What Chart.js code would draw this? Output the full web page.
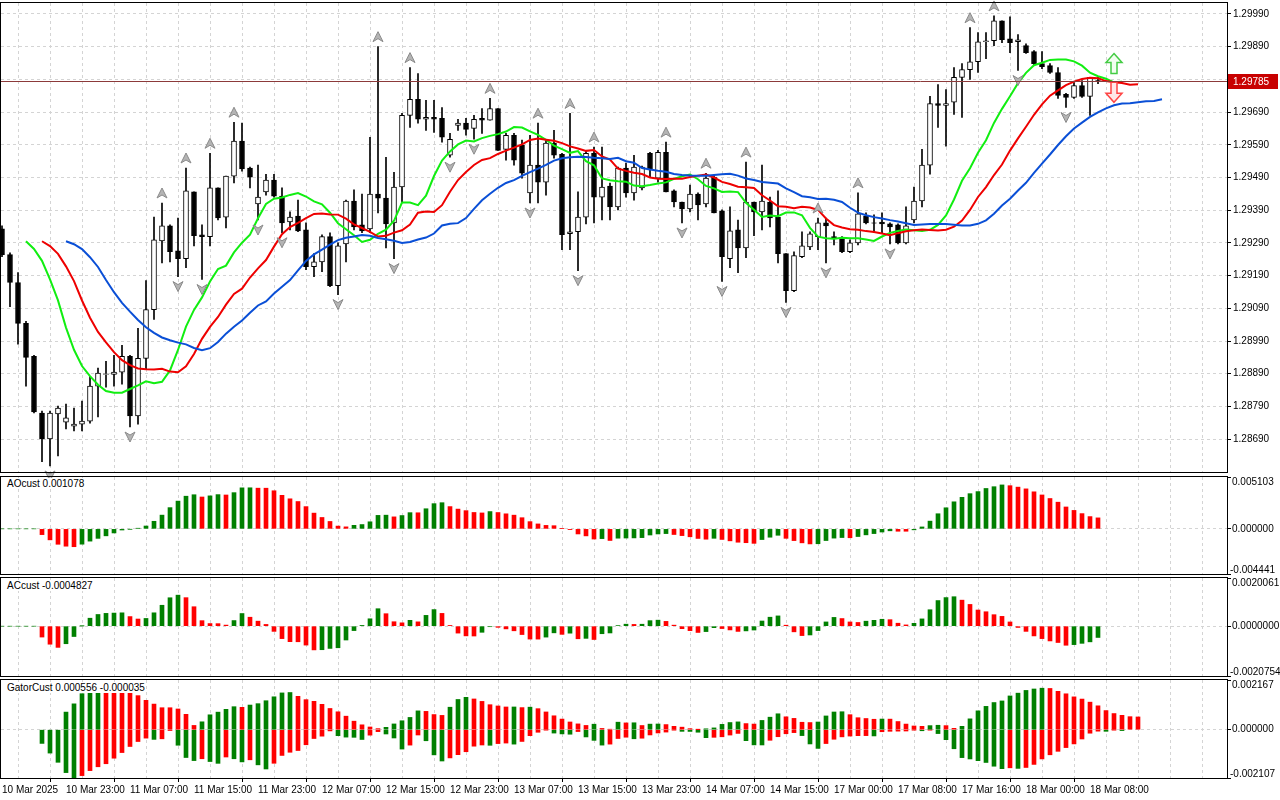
<!DOCTYPE html>
<html lang="en">
<head>
  <meta charset="UTF-8">
  <title>GBPUSD H1 Alligator</title>
  <script src="https://cdn.jsdelivr.net/npm/chart.js"></script>
  <style>
    body { margin: 0; background: #fff; width: 1280px; height: 800px; overflow: hidden; position: relative; font-family: 'Liberation Sans', Arial, sans-serif; }
    canvas { position: absolute; left: 0; }
    .title { position: absolute; left: 6px; font-size: 10px; color: #000; z-index: 5; background: #fff; padding: 0 1px; }
  </style>
</head>
<body>
  <canvas id="mainChart" width="1280" height="485" style="top:-5px"></canvas>
  <canvas id="aoChart" width="1280" height="114" style="top:468px"></canvas>
  <canvas id="acChart" width="1280" height="114" style="top:570px"></canvas>
  <canvas id="gatorChart" width="1280" height="129" style="top:671px"></canvas>
  <div class="title" style="top:478px">AOcust 0.001078</div>
  <div class="title" style="top:580px">ACcust -0.0004827</div>
  <div class="title" style="top:682px">GatorCust 0.000556 -0.000035</div>

  <script>
    // H1 candles, 10 Mar 15:00 .. 18 Mar 10:00
    const openP = [
      1.29333,1.29254,1.29169,1.29044,1.28943,1.28770,1.28691,1.28767,1.28742,1.28730,
      1.28736,1.28745,1.28852,1.28888,1.28888,1.28895,1.28943,1.28761,1.28937,1.29086,
      1.29296,1.29342,1.29266,1.29242,1.29446,1.29315,1.29309,1.29458,1.29369,1.29494,
      1.29601,1.29519,1.29409,1.29446,1.29482,1.29433,1.29354,1.29372,1.29330,1.29217,
      1.29232,1.29309,1.29159,1.29287,1.29418,1.29345,1.29333,1.29439,1.29427,1.29351,
      1.29461,1.29680,1.29729,1.29668,1.29674,1.29671,1.29558,1.29649,1.29656,1.29640,
      1.29671,1.29665,1.29701,1.29576,1.29619,1.29589,1.29443,1.29528,1.29476,1.29595,
      1.29561,1.29318,1.29324,1.29369,1.29564,1.29430,1.29464,1.29400,1.29519,1.29443,
      1.29458,1.29564,1.29488,1.29567,1.29449,1.29415,1.29394,1.29439,1.29409,1.29491,
      1.29388,1.29242,1.29330,1.29275,1.29415,1.29385,1.29415,1.29369,1.29257,1.29144,
      1.29248,1.29278,1.29309,1.29351,1.29309,1.29306,1.29263,1.29290,1.29372,1.29351,
      1.29354,1.29348,1.29345,1.29290,1.29360,1.29418,1.29528,1.29716,1.29710,1.29720,
      1.29796,1.29820,1.29844,1.29905,1.29908,1.29969,1.29914,1.29905,1.29893,1.29875,
      1.29838,1.29832,1.29811,1.29744,1.29735,1.29771,1.29738,1.29786
    ];
    const highP = [
      1.29342,1.29260,1.29199,1.29050,1.28946,1.28776,1.28776,1.28791,1.28797,1.28785,
      1.28806,1.28882,1.28907,1.28928,1.28946,1.28977,1.28946,1.29029,1.29175,1.29369,
      1.29412,1.29345,1.29366,1.29519,1.29446,1.29345,1.29564,1.29458,1.29494,1.29659,
      1.29656,1.29522,1.29528,1.29500,1.29500,1.29458,1.29385,1.29421,1.29351,1.29257,
      1.29315,1.29321,1.29290,1.29421,1.29452,1.29439,1.29613,1.29890,1.29552,1.29506,
      1.29686,1.29826,1.29808,1.29726,1.29726,1.29704,1.29625,1.29668,1.29671,1.29680,
      1.29701,1.29732,1.29701,1.29625,1.29625,1.29604,1.29619,1.29656,1.29604,1.29634,
      1.29564,1.29686,1.29446,1.29573,1.29583,1.29583,1.29473,1.29522,1.29534,1.29558,
      1.29525,1.29567,1.29573,1.29598,1.29452,1.29415,1.29467,1.29443,1.29503,1.29497,
      1.29391,1.29400,1.29360,1.29537,1.29415,1.29528,1.29430,1.29449,1.29257,1.29263,
      1.29324,1.29324,1.29366,1.29366,1.29324,1.29309,1.29299,1.29443,1.29382,1.29376,
      1.29382,1.29351,1.29348,1.29400,1.29461,1.29576,1.29738,1.29774,1.29759,1.29826,
      1.29838,1.29948,1.29933,1.29933,1.29984,1.29969,1.29981,1.29927,1.29899,1.29878,
      1.29875,1.29838,1.29826,1.29747,1.29780,1.29786,1.29796,1.29799
    ];
    const lowP = [
      1.29248,1.29095,1.28980,1.28852,1.28770,1.28621,1.28608,1.28639,1.28721,1.28715,
      1.28715,1.28739,1.28758,1.28849,1.28852,1.28858,1.28727,1.28736,1.28904,1.29056,
      1.29229,1.29232,1.29187,1.29214,1.29281,1.29178,1.29281,1.29360,1.29336,1.29473,
      1.29509,1.29458,1.29360,1.29436,1.29430,1.29321,1.29330,1.29324,1.29208,1.29187,
      1.29202,1.29156,1.29132,1.29232,1.29330,1.29321,1.29321,1.29382,1.29275,1.29242,
      1.29415,1.29643,1.29656,1.29634,1.29628,1.29598,1.29552,1.29634,1.29619,1.29607,
      1.29625,1.29665,1.29573,1.29543,1.29528,1.29488,1.29412,1.29412,1.29436,1.29549,
      1.29269,1.29269,1.29205,1.29348,1.29351,1.29360,1.29360,1.29391,1.29430,1.29421,
      1.29452,1.29491,1.29476,1.29446,1.29400,1.29351,1.29385,1.29360,1.29400,1.29382,
      1.29172,1.29214,1.29199,1.29245,1.29312,1.29330,1.29339,1.29229,1.29108,1.29141,
      1.29245,1.29269,1.29269,1.29229,1.29284,1.29260,1.29260,1.29284,1.29348,1.29321,
      1.29321,1.29287,1.29287,1.29287,1.29351,1.29400,1.29500,1.29643,1.29586,1.29683,
      1.29674,1.29790,1.29811,1.29853,1.29893,1.29902,1.29872,1.29817,1.29869,1.29835,
      1.29823,1.29808,1.29732,1.29704,1.29732,1.29735,1.29680,1.29777
    ];
    const closeP = [
      1.29254,1.29169,1.29044,1.28940,1.28773,1.28691,1.28770,1.28785,1.28755,1.28736,
      1.28745,1.28852,1.28892,1.28890,1.28895,1.28943,1.28761,1.28937,1.29086,1.29299,
      1.29342,1.29263,1.29242,1.29449,1.29312,1.29309,1.29458,1.29366,1.29494,1.29601,
      1.29516,1.29491,1.29430,1.29482,1.29433,1.29351,1.29369,1.29327,1.29217,1.29232,
      1.29309,1.29159,1.29281,1.29418,1.29339,1.29327,1.29439,1.29427,1.29348,1.29461,
      1.29680,1.29729,1.29668,1.29674,1.29668,1.29613,1.29607,1.29656,1.29637,1.29668,
      1.29665,1.29701,1.29573,1.29619,1.29543,1.29503,1.29528,1.29476,1.29595,1.29558,
      1.29315,1.29324,1.29369,1.29564,1.29430,1.29461,1.29400,1.29519,1.29443,1.29522,
      1.29522,1.29513,1.29567,1.29446,1.29415,1.29394,1.29439,1.29406,1.29488,1.29382,
      1.29248,1.29327,1.29275,1.29415,1.29385,1.29418,1.29366,1.29257,1.29144,1.29251,
      1.29281,1.29318,1.29351,1.29342,1.29302,1.29263,1.29290,1.29379,1.29351,1.29350,
      1.29348,1.29339,1.29290,1.29342,1.29418,1.29528,1.29716,1.29710,1.29716,1.29796,
      1.29820,1.29844,1.29905,1.29908,1.29969,1.29911,1.29902,1.29911,1.29872,1.29838,
      1.29829,1.29811,1.29741,1.29735,1.29771,1.29738,1.29796,1.29785
    ];
    const timeLabels = ['10 Mar 2025','10 Mar 23:00','11 Mar 07:00','11 Mar 15:00','11 Mar 23:00',
      '12 Mar 07:00','12 Mar 15:00','12 Mar 23:00','13 Mar 07:00','13 Mar 15:00','13 Mar 23:00',
      '14 Mar 07:00','14 Mar 15:00','17 Mar 00:00','17 Mar 08:00','17 Mar 16:00','18 Mar 00:00','18 Mar 08:00'];
    const priceTicks = [1.28690,1.28790,1.28890,1.28990,1.29090,1.29190,1.29290,1.29390,1.29490,1.29590,1.29690,1.29790,1.29890,1.29990];
    const priceRange = [1.285895, 1.300235];
    const aoRange = [-0.004441, 0.005103];
    const acRange = [-0.0020754, 0.0020061];
    const gatorRange = [-0.002107, 0.002167];
    const currentPrice = 1.29785;
    const signalBar = [139];
    const signalUpTip = [1.29869];
    const signalDownTip = [1.29720];

    const GREEN = '#008000', RED = '#ff0000';
    const GRID = '#d4d4d4';
    const FONT = { family: "'Liberation Sans', Arial, sans-serif", size: 10 };
    const N = closeP.length;

    // indicators from the candles
    const median = highP.map((h, i) => (h + lowP[i]) / 2);
    function smma(src, n) {
      const out = [];
      let v = src[0];
      src.forEach((p, i) => { v = i === 0 ? p : (v * (n - 1) + p) / n; out.push(v); });
      return out;
    }
    function sma(src, n) {
      return src.map((_, i) => {
        const a = src.slice(Math.max(0, i - n + 1), i + 1);
        return a.reduce((s, x) => s + x, 0) / a.length;
      });
    }
    const jawRaw = smma(median, 13), teethRaw = smma(median, 8), lipsRaw = smma(median, 5);
    const jawAt = j => jawRaw[j - 8], teethAt = j => teethRaw[j - 5], lipsAt = j => lipsRaw[j - 3];

    const s5 = sma(median, 5), s34 = sma(median, 34);
    const ao = s5.map((v, i) => v - s34[i]);
    const aoS5 = sma(ao, 5);
    const ac = ao.map((v, i) => v - aoS5[i]);
    const colorByChange = arr => arr.map((v, i) => (i === 0 || v >= arr[i - 1]) ? GREEN : RED);

    const gUp = [], gDown = [];
    for (let j = 8; j <= N - 1 + 5; j++) gUp.push({ x: j, y: Math.abs(jawAt(j) - teethAt(j)) });
    for (let j = 5; j <= N - 1 + 3; j++) gDown.push({ x: j, y: -Math.abs(teethAt(j) - lipsAt(j)) });
    const gUpCol = gUp.map((p, i) => (i === 0 || p.y >= gUp[i - 1].y) ? GREEN : RED);
    const gDownCol = gDown.map((p, i) => (i === 0 || -p.y >= -gDown[i - 1].y) ? GREEN : RED);

    const fractUp = [], fractDown = [];
    for (let i = 2; i < N - 2; i++) {
      if (highP[i] > highP[i - 1] && highP[i] > highP[i - 2] && highP[i] >= highP[i + 1] && highP[i] >= highP[i + 2]) fractUp.push(i);
      if (lowP[i] < lowP[i - 1] && lowP[i] < lowP[i - 2] && lowP[i] <= lowP[i + 1] && lowP[i] <= lowP[i + 2]) fractDown.push(i);
    }

    // shared x scale: 8 px per bar, plot from x=1 to x=1227
    function xScale(showLabels) {
      return {
        type: 'linear', min: -0.125, max: 153.125, offset: false,
        afterBuildTicks: s => { const t = []; for (let v = 0; v <= 152; v += 4) t.push({ value: v }); s.ticks = t; },
        afterFit: s => { s.height = showLabels ? 21 : 0; },
        grid: {
          color: GRID, drawTicks: showLabels, tickLength: 4,
          tickColor: c => (c.tick && c.tick.value % 8 === 0 && c.tick.value <= 136) ? '#000' : 'rgba(0,0,0,0)'
        },
        border: { display: false, dash: [3, 3] },
        ticks: {
          display: showLabels, autoSkip: false, maxRotation: 0, align: 'start', padding: 2, color: '#000', font: FONT,
          callback: v => (v % 8 === 0 && v / 8 < timeLabels.length) ? timeLabels[v / 8] : ''
        }
      };
    }
    function yScale(min, max, ticks, digits, zeroOnly) {
      return {
        position: 'right', min: min, max: max,
        afterBuildTicks: s => { s.ticks = ticks.map(v => ({ value: v })); },
        afterFit: s => { s.width = 53; },
        grid: {
          color: c => (!zeroOnly || (c.tick && c.tick.value === 0)) ? GRID : 'rgba(0,0,0,0)',
          tickColor: '#000', tickLength: 4, tickBorderDash: []
        },
        border: { display: false, dash: [3, 3] },
        ticks: { display: !zeroOnly, color: '#000', font: FONT, padding: 2, callback: v => v.toFixed(digits) }
      };
    }
    const framePlugin = {
      id: 'frame',
      afterDraw(chart) {
        const a = chart.chartArea, ctx = chart.ctx;
        ctx.save();
        ctx.strokeStyle = '#000';
        ctx.lineWidth = 1;
        ctx.strokeRect(Math.round(a.left) - 0.5, Math.round(a.top) - 0.5, Math.round(a.right - a.left) + 1, Math.round(a.bottom - a.top) + 1);
        ctx.restore();
      }
    };
    // indicator panels: max / 0 / min labels kept inside the panel height
    const panelLabels = digits => ({
      id: 'panelLabels',
      afterDraw(chart) {
        const ctx = chart.ctx, y = chart.scales.y, a = chart.chartArea;
        ctx.save();
        ctx.fillStyle = '#000';
        ctx.font = "10px 'Liberation Sans', Arial, sans-serif";
        ctx.textBaseline = 'middle';
        const lx = a.right + 3;
        ctx.fillText(y.max.toFixed(digits), lx + 2, a.top + 5);
        ctx.fillText((0).toFixed(digits), lx + 2, y.getPixelForValue(0));
        ctx.fillText(y.min.toFixed(digits), lx, a.bottom - 4);
        ctx.restore();
      }
    });
    const baseOpts = (padTop, padBottom) => ({
      responsive: false, animation: false, devicePixelRatio: 1,
      layout: { padding: { top: padTop, bottom: padBottom, left: 1, right: 0 } },
      plugins: { legend: { display: false }, tooltip: { enabled: false } }
    });

    // main price chart
    const mainPlugin = {
      id: 'mainExtras',
      afterDatasetsDraw(chart) {
        const ctx = chart.ctx, x = chart.scales.x, y = chart.scales.y, a = chart.chartArea;
        ctx.save();
        // fractal arrows
        ctx.fillStyle = '#b4b4b4';
        ctx.strokeStyle = '#8a8a8a';
        ctx.lineWidth = 1;
        fractUp.forEach(i => {
          const px = x.getPixelForValue(i), py = y.getPixelForValue(highP[i]) - 5;
          ctx.beginPath(); ctx.moveTo(px, py - 10); ctx.lineTo(px + 5, py); ctx.lineTo(px, py - 3); ctx.lineTo(px - 5, py); ctx.closePath(); ctx.fill(); ctx.stroke();
        });
        fractDown.forEach(i => {
          const px = x.getPixelForValue(i), py = y.getPixelForValue(lowP[i]) + 5;
          ctx.beginPath(); ctx.moveTo(px, py + 10); ctx.lineTo(px + 5, py); ctx.lineTo(px, py + 3); ctx.lineTo(px - 5, py); ctx.closePath(); ctx.fill(); ctx.stroke();
        });
        // signal arrows
        signalBar.forEach((b, k) => {
          const px = x.getPixelForValue(b);
          let t = y.getPixelForValue(signalUpTip[k]);
          ctx.beginPath();
          ctx.moveTo(px, t); ctx.lineTo(px + 8, t + 9); ctx.lineTo(px + 3, t + 9); ctx.lineTo(px + 3, t + 20);
          ctx.lineTo(px - 3, t + 20); ctx.lineTo(px - 3, t + 9); ctx.lineTo(px - 8, t + 9); ctx.closePath();
          ctx.fillStyle = '#f2fff0'; ctx.fill(); ctx.strokeStyle = '#44cc44'; ctx.lineWidth = 1.5; ctx.stroke();
          t = y.getPixelForValue(signalDownTip[k]);
          ctx.beginPath();
          ctx.moveTo(px, t); ctx.lineTo(px + 8, t - 9); ctx.lineTo(px + 3, t - 9); ctx.lineTo(px + 3, t - 20);
          ctx.lineTo(px - 3, t - 20); ctx.lineTo(px - 3, t - 9); ctx.lineTo(px - 8, t - 9); ctx.closePath();
          ctx.fillStyle = '#ffe8e8'; ctx.fill(); ctx.strokeStyle = '#ff4444'; ctx.stroke();
        });
        // current price line
        const cy = Math.round(y.getPixelForValue(currentPrice)) + 0.5;
        ctx.strokeStyle = '#8c3a3a'; ctx.lineWidth = 1;
        ctx.beginPath(); ctx.moveTo(a.left, cy); ctx.lineTo(a.right, cy); ctx.stroke();
        ctx.restore();
      },
      afterDraw(chart) {
        const ctx = chart.ctx, y = chart.scales.y, a = chart.chartArea;
        const cy = Math.round(y.getPixelForValue(currentPrice));
        ctx.save();
        ctx.fillStyle = '#c80000';
        ctx.fillRect(a.right + 1, cy - 7, 50, 15);
        ctx.fillStyle = '#fff';
        ctx.font = "10px 'Liberation Sans', Arial, sans-serif";
        ctx.textBaseline = 'middle';
        ctx.fillText(currentPrice.toFixed(5), a.right + 6, cy + 1);
        ctx.restore();
      }
    };

    const idx = openP.map((_, i) => i);
    new Chart(document.getElementById('mainChart'), {
      type: 'bar',
      data: {
        datasets: [
          { type: 'line', data: jawRaw.map((v, i) => ({ x: i + 8, y: v })), borderColor: '#0a4fd6', borderWidth: 2, pointRadius: 0, order: 1 },
          { type: 'line', data: teethRaw.map((v, i) => ({ x: i + 5, y: v })), borderColor: '#ee0000', borderWidth: 2, pointRadius: 0, order: 1 },
          { type: 'line', data: lipsRaw.map((v, i) => ({ x: i + 3, y: v })), borderColor: '#11ee11', borderWidth: 2, pointRadius: 0, order: 1 },
          {
            data: idx.map(i => ({ x: i, y: [openP[i], closeP[i]] })), grouped: false, barThickness: 5,
            backgroundColor: idx.map(i => closeP[i] >= openP[i] ? '#fff' : '#000'),
            borderColor: '#000', borderWidth: 1, borderSkipped: false, order: 2
          },
          {
            data: idx.map(i => ({ x: i, y: [lowP[i], highP[i]] })), grouped: false, barThickness: 1,
            backgroundColor: '#000', order: 3
          }
        ]
      },
      options: Object.assign(baseOpts(2, 7), {
        scales: { x: xScale(false), y: yScale(priceRange[0], priceRange[1], priceTicks, 5, false) }
      }),
      plugins: [framePlugin, mainPlugin]
    });

    function histChart(id, series, padTop, padBottom, range, digits, showX) {
      new Chart(document.getElementById(id), {
        type: 'bar',
        data: {
          datasets: series.map(s => ({
            data: s.data, backgroundColor: s.colors, barThickness: 4, grouped: false
          }))
        },
        options: Object.assign(baseOpts(padTop, padBottom), {
          scales: { x: xScale(showX), y: yScale(range[0], range[1], [range[1], 0, range[0]], digits, true) }
        }),
        plugins: [framePlugin, panelLabels(digits)]
      });
    }
    histChart('aoChart', [{ data: ao.map((v, i) => ({ x: i, y: v })), colors: colorByChange(ao) }], 9, 8, aoRange, 6, false);
    histChart('acChart', [{ data: ac.map((v, i) => ({ x: i, y: v })), colors: colorByChange(ac) }], 8, 8, acRange, 7, false);
    histChart('gatorChart', [
      { data: gUp, colors: gUpCol },
      { data: gDown, colors: gDownCol }
    ], 9, 1, gatorRange, 6, true);
  </script>
</body>
</html>
